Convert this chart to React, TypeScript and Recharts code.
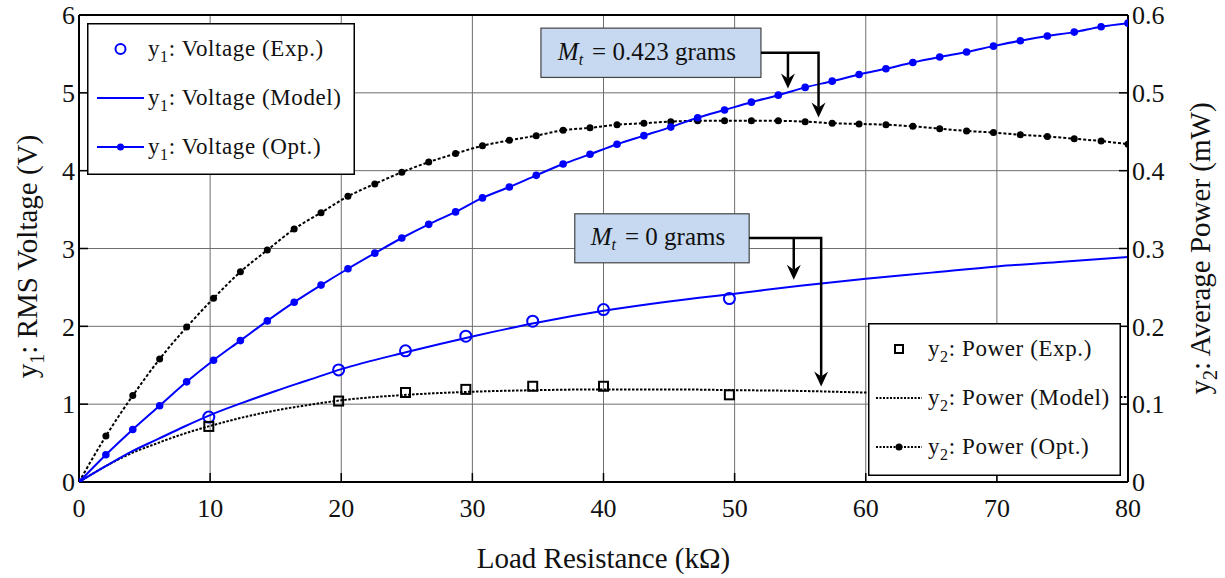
import {
  CartesianGrid,
  ComposedChart,
  Label,
  Line,
  ReferenceDot,
  ReferenceLine,
  Scatter,
  XAxis,
  YAxis,
} from "recharts";

// optimised-model sweep (marker positions)
const optR = [
  0, 2.05, 4.1, 6.15, 8.21, 10.26, 12.31, 14.36, 16.41, 18.46, 20.51, 22.56,
  24.62, 26.67, 28.72, 30.77, 32.82, 34.87, 36.92, 38.97, 41.03, 43.08, 45.13,
  47.18, 49.23, 51.28, 53.33, 55.38, 57.44, 59.49, 61.54, 63.59, 65.64, 67.69,
  69.74, 71.79, 73.85, 75.9, 77.95, 80,
];
const voltOpt = [
  0, 0.35, 0.675, 0.98, 1.287, 1.565, 1.817, 2.07, 2.31, 2.53, 2.74, 2.94,
  3.135, 3.31, 3.47, 3.65, 3.79, 3.94, 4.085, 4.21, 4.34, 4.45, 4.56, 4.68,
  4.78, 4.88, 4.97, 5.07, 5.15, 5.235, 5.31, 5.39, 5.46, 5.525, 5.6, 5.67,
  5.73, 5.78, 5.85, 5.895,
];
const powerOpt = [
  0, 0.059, 0.111, 0.158, 0.199, 0.236, 0.27, 0.298, 0.325, 0.346, 0.367,
  0.383, 0.398, 0.411, 0.422, 0.432, 0.439, 0.445, 0.452, 0.455, 0.459, 0.461,
  0.463, 0.464, 0.464, 0.464, 0.464, 0.463, 0.461, 0.46, 0.459, 0.457, 0.454,
  0.451, 0.449, 0.446, 0.444, 0.441, 0.438, 0.434,
];

// model curves
const modelR = [0, 2, 4, 6, 8, 10, 12.5, 15, 17.5, 20, 25, 30, 35, 40, 45, 50, 55, 60, 65, 70, 75, 80];
const voltModel = [
  0, 0.2, 0.39, 0.55, 0.71, 0.86, 1.02, 1.17, 1.31, 1.45, 1.67, 1.87, 2.05,
  2.2, 2.32, 2.42, 2.52, 2.61, 2.69, 2.77, 2.83, 2.89,
];
const powerModel = [
  0, 0.02, 0.037, 0.05, 0.062, 0.072, 0.083, 0.092, 0.099, 0.105, 0.112, 0.116,
  0.118, 0.119, 0.119, 0.118, 0.117, 0.115, 0.114, 0.112, 0.111, 0.109,
];

// experiments
const expR = [9.9, 19.8, 24.9, 29.5, 34.6, 40, 49.6];
const voltExp = [0.834, 1.44, 1.685, 1.873, 2.066, 2.215, 2.356];
const powerExp = [0.0714, 0.104, 0.115, 0.119, 0.123, 0.123, 0.112];

const xTicks = [0, 10, 20, 30, 40, 50, 60, 70, 80];
const voltTicks = [0, 1, 2, 3, 4, 5, 6];
const powerTicks = [0, 0.1, 0.2, 0.3, 0.4, 0.5, 0.6];

const FONT = "Liberation Serif, DejaVu Serif, Times New Roman, serif";
const BLUE = "#0000ff";
const INK = "#111";

const toPoints = (xs: number[], ys: number[]) =>
  xs.map((x, i) => ({ x, y: ys[i] }));

const tickStyle = { fontSize: 26, fontFamily: FONT, fill: INK };

function LeftTitle({ viewBox }: any) {
  const x = viewBox.x + 37;
  const y = viewBox.y + viewBox.height / 2 + 8;
  return (
    <text
      x={x}
      y={y}
      transform={`rotate(-90, ${x}, ${y})`}
      textAnchor="middle"
      style={{ fontSize: 29, fontFamily: FONT }}
      fill={INK}
    >
      y<tspan fontSize={20} dy={7}>1</tspan>
      <tspan dy={-7}>: RMS Voltage (V)</tspan>
    </text>
  );
}

function RightTitle({ viewBox }: any) {
  const x = viewBox.x + 82;
  const y = viewBox.y + viewBox.height / 2;
  return (
    <text
      x={x}
      y={y}
      transform={`rotate(-90, ${x}, ${y})`}
      textAnchor="middle"
      style={{ fontSize: 29, fontFamily: FONT }}
      fill={INK}
    >
      y<tspan fontSize={20} dy={7}>2</tspan>
      <tspan dy={-7}>: Average Power (mW)</tspan>
    </text>
  );
}

function BottomTitle({ viewBox }: any) {
  return (
    <text
      x={viewBox.x + viewBox.width / 2}
      y={viewBox.y + 86}
      textAnchor="middle"
      style={{ fontSize: 29, fontFamily: FONT }}
      fill={INK}
    >
      Load Resistance (kΩ)
    </text>
  );
}

// callout drawn relative to the point its long arrow lands on
function makeCallout(
  mass: string,
  box: { x0: number; x1: number; y0: number; y1: number },
  elbowY: number,
  branchX: number,
  branchTipY: number
) {
  return (props: any) => {
    const { cx, cy } = props;
    const head = (tx: number, ty: number) =>
      `M${tx},${ty} L${tx - 7},${ty - 15} L${tx},${ty - 10} L${tx + 7},${ty - 15} Z`;
    return (
      <g>
        <rect
          x={cx + box.x0}
          y={cy + box.y0}
          width={box.x1 - box.x0}
          height={box.y1 - box.y0}
          fill="#c6d9f0"
          stroke="#444"
          strokeWidth={1.2}
        />
        <text
          x={cx + (box.x0 + box.x1) / 2 - 4}
          y={cy + box.y0 + 31.5}
          textAnchor="middle"
          style={{ fontSize: 25, fontFamily: FONT }}
          fill={INK}
        >
          <tspan fontStyle="italic">M</tspan>
          <tspan fontStyle="italic" fontSize={16} dy={5}>t</tspan>
          <tspan dy={-5} dx={9}>= {mass} grams</tspan>
        </text>
        <polyline
          points={`${cx + box.x1},${cy + elbowY} ${cx},${cy + elbowY} ${cx},${cy - 10}`}
          fill="none"
          stroke="#000"
          strokeWidth={2.5}
        />
        <path d={head(cx, cy)} fill="#000" />
        <line
          x1={cx + branchX}
          y1={cy + elbowY}
          x2={cx + branchX}
          y2={cy + branchTipY - 10}
          stroke="#000"
          strokeWidth={2.5}
        />
        <path d={head(cx + branchX, cy + branchTipY)} fill="#000" />
      </g>
    );
  };
}

const heavyCallout = makeCallout("0.423", { x0: -277.6, x1: -57.6, y0: -89.3, y1: -40 }, -64.8, -30.6, -29);
const lightCallout = makeCallout("0", { x0: -246.4, x1: -72, y0: -172.7, y1: -123.7 }, -148.4, -27.4, -106.7);

type LegendItem = { icon: string; sub: string; text: string };

const leftItems: LegendItem[] = [
  { icon: "circle", sub: "1", text: ": Voltage (Exp.)" },
  { icon: "line", sub: "1", text: ": Voltage (Model)" },
  { icon: "lineDot", sub: "1", text: ": Voltage (Opt.)" },
];
const rightItems: LegendItem[] = [
  { icon: "square", sub: "2", text: ": Power (Exp.)" },
  { icon: "dotted", sub: "2", text: ": Power (Model)" },
  { icon: "dottedDot", sub: "2", text: ": Power (Opt.)" },
];

function LegendIcon({ icon, y, x0, x1 }: { icon: string; y: number; x0: number; x1: number }) {
  const mid = (x0 + x1) / 2;
  switch (icon) {
    case "circle":
      return <circle cx={mid} cy={y} r={5} fill="none" stroke={BLUE} strokeWidth={2} />;
    case "line":
      return <line x1={x0} x2={x1} y1={y} y2={y} stroke={BLUE} strokeWidth={2} />;
    case "lineDot":
      return (
        <g>
          <line x1={x0} x2={x1} y1={y} y2={y} stroke={BLUE} strokeWidth={2} />
          <circle cx={mid} cy={y} r={3.5} fill={BLUE} />
        </g>
      );
    case "square":
      return <rect x={mid - 4} y={y - 4} width={8} height={8} fill="none" stroke="#000" strokeWidth={2} />;
    case "dotted":
      return <line x1={x0} x2={x1} y1={y} y2={y} stroke="#000" strokeWidth={2} strokeDasharray="2 1.5" />;
    default:
      return (
        <g>
          <line x1={x0} x2={x1} y1={y} y2={y} stroke="#000" strokeWidth={2} strokeDasharray="2 1.5" />
          <circle cx={mid} cy={y} r={3.5} fill="#000" />
        </g>
      );
  }
}

function LegendBox({
  left,
  top,
  width,
  height,
  items,
  iconX0,
  iconX1,
  textX,
}: {
  left: number;
  top: number;
  width: number;
  height: number;
  items: LegendItem[];
  iconX0: number;
  iconX1: number;
  textX: number;
}) {
  return (
    <svg
      width={width}
      height={height}
      style={{ position: "absolute", left, top }}
    >
      <rect x={0.75} y={0.75} width={width - 1.5} height={height - 1.5} fill="#fff" stroke="#000" strokeWidth={1.5} />
      {items.map((it, i) => {
        const cy = 26 + i * 49;
        return (
          <g key={i}>
            <LegendIcon icon={it.icon} y={cy} x0={iconX0} x1={iconX1} />
            <text x={textX} y={cy + 7} style={{ fontSize: 23, fontFamily: FONT, letterSpacing: 0.6 }} fill={INK}>
              y<tspan fontSize={16} dy={6}>{it.sub}</tspan>
              <tspan dy={-6}>{it.text}</tspan>
            </text>
          </g>
        );
      })}
    </svg>
  );
}

export default function App() {
  return (
    <div style={{ position: "absolute", left: 0, top: 0, width: 1225, height: 578, background: "#fff", fontFamily: FONT }}>
      <ComposedChart
        width={1225}
        height={578}
        margin={{ top: 15, right: 0, bottom: 0, left: 0 }}
      >
        <CartesianGrid yAxisId="left" stroke="#6e6e6e" strokeWidth={1} />
        <XAxis
          dataKey="x"
          type="number"
          domain={[0, 80]}
          ticks={xTicks}
          height={96}
          tick={tickStyle}
          tickSize={-9}
          tickMargin={26}
          tickLine={{ stroke: "#000", strokeWidth: 1.5 }}
          axisLine={{ stroke: "#000", strokeWidth: 2 }}
          allowDataOverflow
        >
          <Label content={BottomTitle} />
        </XAxis>
        <YAxis
          yAxisId="left"
          type="number"
          domain={[0, 6]}
          ticks={voltTicks}
          width={79}
          tick={tickStyle}
          tickSize={-9}
          tickMargin={13}
          tickLine={{ stroke: "#000", strokeWidth: 1.5 }}
          axisLine={{ stroke: "#000", strokeWidth: 2 }}
          allowDataOverflow
        >
          <Label content={LeftTitle} />
        </YAxis>
        <YAxis
          yAxisId="right"
          orientation="right"
          type="number"
          domain={[0, 0.6]}
          ticks={powerTicks}
          width={97}
          tick={tickStyle}
          tickSize={-9}
          tickMargin={13}
          tickFormatter={(v: number) => (v === 0 ? "0" : v.toFixed(1))}
          tickLine={{ stroke: "#000", strokeWidth: 1.5 }}
          axisLine={{ stroke: "#000", strokeWidth: 2 }}
          allowDataOverflow
        >
          <Label content={RightTitle} />
        </YAxis>
        <ReferenceLine yAxisId="left" y={6} stroke="#000" strokeWidth={2} />

        <Line
          yAxisId="right"
          data={toPoints(modelR, powerModel)}
          dataKey="y"
          type="monotone"
          stroke="#000"
          strokeWidth={2}
          strokeDasharray="2.5 1.5"
          dot={false}
          isAnimationActive={false}
        />
        <Line
          yAxisId="right"
          data={toPoints(optR, powerOpt)}
          dataKey="y"
          type="monotone"
          stroke="#000"
          strokeWidth={2}
          strokeDasharray="3 2"
          dot={{ r: 3.5, fill: "#000", stroke: "none" }}
          isAnimationActive={false}
        />
        <Line
          yAxisId="left"
          data={toPoints(modelR, voltModel)}
          dataKey="y"
          type="monotone"
          stroke={BLUE}
          strokeWidth={2}
          dot={false}
          isAnimationActive={false}
        />
        <Line
          yAxisId="left"
          data={toPoints(optR, voltOpt)}
          dataKey="y"
          type="monotone"
          stroke={BLUE}
          strokeWidth={2}
          dot={{ r: 3.8, fill: BLUE, stroke: "none" }}
          isAnimationActive={false}
        />
        <Scatter
          yAxisId="left"
          data={toPoints(expR, voltExp)}
          dataKey="y"
          isAnimationActive={false}
          shape={(p: any) => (
            <circle cx={p.cx} cy={p.cy} r={5.5} fill="none" stroke={BLUE} strokeWidth={2} />
          )}
        />
        <Scatter
          yAxisId="right"
          data={toPoints(expR, powerExp)}
          dataKey="y"
          isAnimationActive={false}
          shape={(p: any) => (
            <rect x={p.cx - 4.5} y={p.cy - 4.5} width={9} height={9} fill="none" stroke="#000" strokeWidth={2} />
          )}
        />

        <ReferenceDot yAxisId="left" x={56.4} y={4.684} shape={heavyCallout} />
        <ReferenceDot yAxisId="left" x={56.6} y={1.227} shape={lightCallout} />
      </ComposedChart>

      <LegendBox left={87} top={23} width={268} height={152} items={leftItems} iconX0={10} iconX1={57} textX={61} />
      <LegendBox left={868} top={323} width={253} height={153} items={rightItems} iconX0={8} iconX1={54} textX={60} />
    </div>
  );
}
